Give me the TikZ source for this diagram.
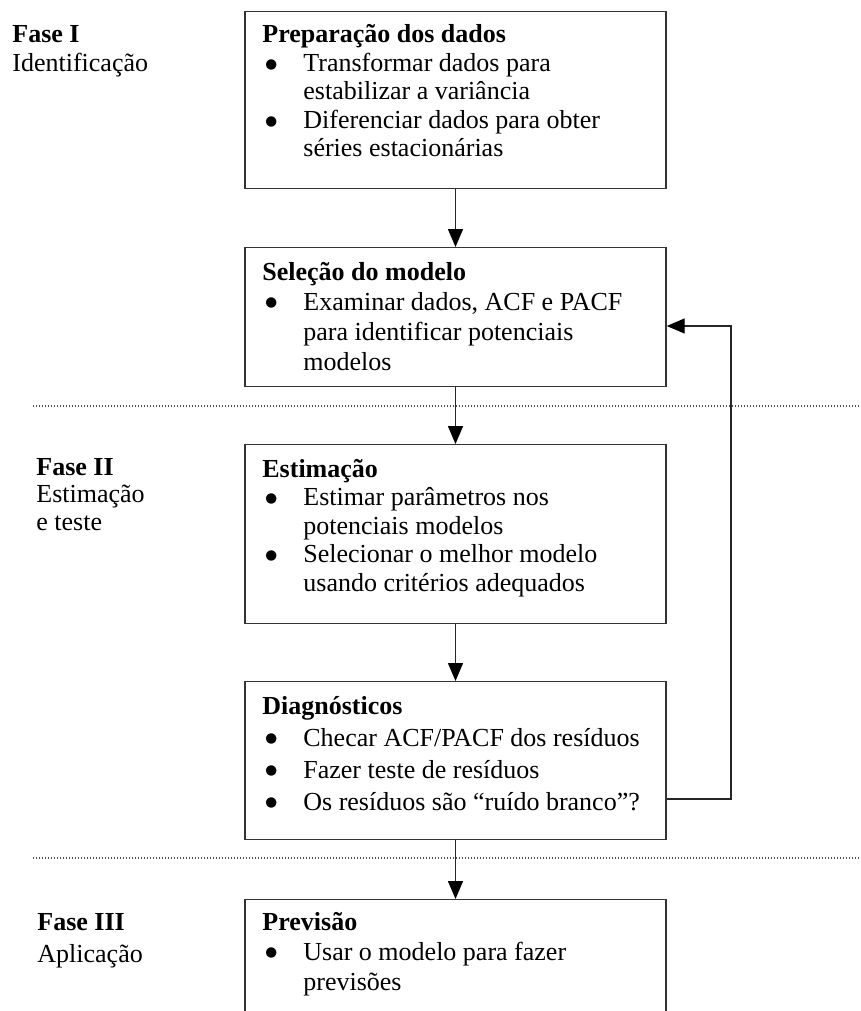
\documentclass[tikz,border=0pt]{standalone}
\usepackage{fontspec}
\setmainfont{Liberation Serif}
\newfontfamily\symfont{DejaVu Sans}
\usetikzlibrary{arrows.meta}

\newcommand{\blt}{\hspace*{1.5pt}\raisebox{1.6pt}{\symfont\fontsize{6.8}{6.8}\selectfont ●}}

\tikzstyle{stageBox} = [rectangle, minimum width=210.5pt, anchor=north, draw=black!80, line width=0.7pt, inner sep=0pt]
\tikzstyle{stageText} = [anchor=base west, inner sep=0pt]
\tikzstyle{arrow} = [line width=0.7pt, draw=black!85, -{Triangle[length=9pt,width=7.5pt,color=black]}]
\tikzstyle{sepLine} = [line width=0.6pt, draw=black!70, dash pattern=on 0.6pt off 0.9pt]

\begin{document}
\begin{tikzpicture}[x=0.5pt, y=-0.5pt]
    \useasboundingbox (0,0) rectangle (861,1011);
    \clip (0,0) rectangle (861,1011);

    % fases
    \node (fase1)[stageText, font={\fontsize{13}{14.5}\selectfont}] at (12,43) {%
      \begin{tabular}[t]{@{}l@{}}\textbf{Fase I}\\ Identificação\end{tabular}};
    \node (fase2)[stageText, font={\fontsize{13}{13.8}\selectfont}] at (36,475) {%
      \begin{tabular}[t]{@{}l@{}}\textbf{Fase II}\\ Estimação\\ e teste\end{tabular}};
    \node (fase3)[stageText, font={\fontsize{13}{16}\selectfont}] at (37,930) {%
      \begin{tabular}[t]{@{}l@{}}\textbf{Fase III}\\ Aplicação\end{tabular}};

    % caixas
    \node (prep)[stageBox, minimum height=88.5pt] at (455.5,11) {};
    \node (selecao)[stageBox, minimum height=69.5pt] at (455.5,247) {};
    \node (estim)[stageBox, minimum height=89.5pt] at (455.5,444) {};
    \node (diag)[stageBox, minimum height=79pt] at (455.5,681) {};
    \node (previsao)[stageBox, minimum height=75pt] at (455.5,899) {};

    \node (prepText)[stageText, font={\fontsize{13}{14.25}\selectfont}] at (262,43) {%
      \begin{tabular}[t]{@{}p{20.5pt}@{}l@{}}
        \multicolumn{2}{@{}l@{}}{\textbf{Preparação dos dados}}\\
        \blt & Transformar dados para\\
        & estabilizar a variância\\
        \blt & Diferenciar dados para obter\\
        & séries estacionárias
      \end{tabular}};
    \node (selecaoText)[stageText, font={\fontsize{13}{15}\selectfont}] at (262,280) {%
      \begin{tabular}[t]{@{}p{20.5pt}@{}l@{}}
        \multicolumn{2}{@{}l@{}}{\textbf{Seleção do modelo}}\\
        \blt & Examinar dados, ACF e PACF\\
        & para identificar potenciais\\
        & modelos
      \end{tabular}};
    \node (estimText)[stageText, font={\fontsize{13}{14.25}\selectfont}] at (262,477) {%
      \begin{tabular}[t]{@{}p{20.5pt}@{}l@{}}
        \multicolumn{2}{@{}l@{}}{\textbf{Estimação}}\\
        \blt & Estimar parâmetros nos\\
        & potenciais modelos\\
        \blt & Selecionar o melhor modelo\\
        & usando critérios adequados
      \end{tabular}};
    \node (diagText)[stageText, font={\fontsize{13}{16}\selectfont}] at (262,714) {%
      \begin{tabular}[t]{@{}p{20.5pt}@{}l@{}}
        \multicolumn{2}{@{}l@{}}{\textbf{Diagnósticos}}\\
        \blt & Checar ACF/PACF dos resíduos\\
        \blt & Fazer teste de resíduos\\
        \blt & Os resíduos são “ruído branco”?
      \end{tabular}};
    \node (previsaoText)[stageText, font={\fontsize{13}{15}\selectfont}] at (262,930) {%
      \begin{tabular}[t]{@{}p{20.5pt}@{}l@{}}
        \multicolumn{2}{@{}l@{}}{\textbf{Previsão}}\\
        \blt & Usar o modelo para fazer\\
        & previsões
      \end{tabular}};

    % separadores
    \draw [sepLine] (33,406) -- (861,406);
    \draw [sepLine] (33,858) -- (861,858);

    % setas
    \draw [arrow] (prep.south) -- (selecao.north);
    \draw [arrow] (selecao.south) -- (estim.north);
    \draw [arrow] (estim.south) -- (diag.north);
    \draw [arrow] (diag.south) -- (previsao.north);

    \coordinate (voltaA) at (731,799);
    \coordinate (voltaB) at (731,326);
    \draw [arrow] (diag.east |- voltaA) -- (voltaA) -- (voltaB) -- (selecao.east |- voltaB);

\end{tikzpicture}
\end{document}
